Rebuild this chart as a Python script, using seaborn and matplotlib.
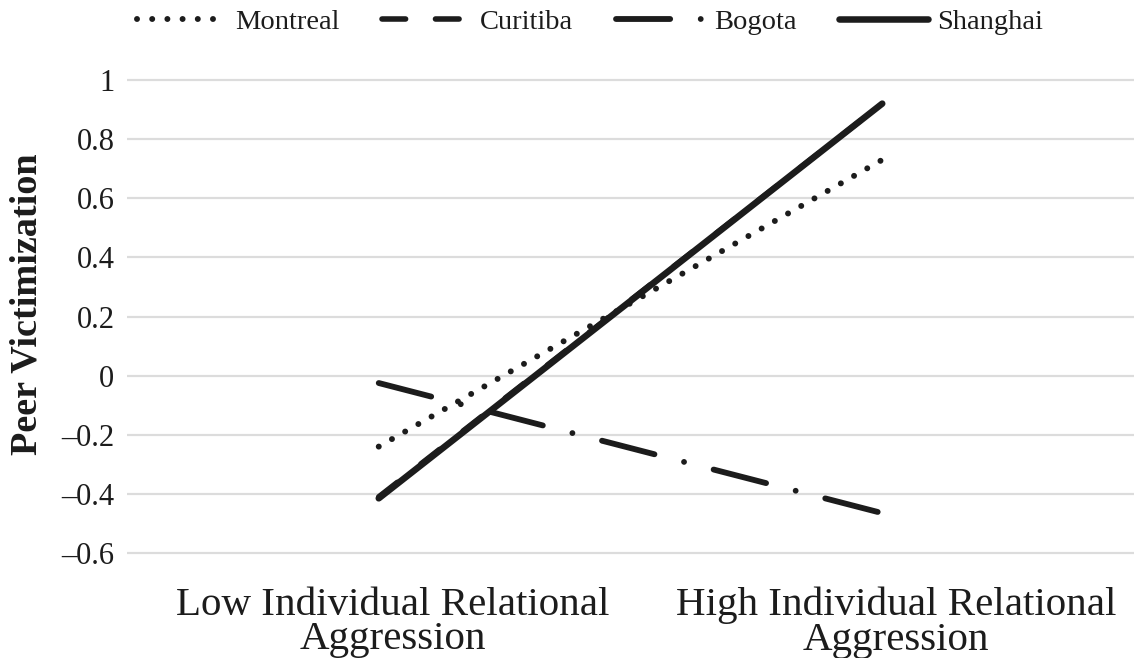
import matplotlib
matplotlib.use("Agg")
import matplotlib.pyplot as plt
import matplotlib.transforms as mtransforms
import pandas as pd
import seaborn as sns

# Simple slopes: peer victimization at low vs. high individual relational aggression
categories = ["Low Individual Relational\nAggression", "High Individual Relational\nAggression"]
montreal = [-0.24, 0.73]
curitiba = [-0.41, 0.92]
bogota = [-0.025, -0.465]
shanghai = [-0.415, 0.92]
y_ticks = [-0.6, -0.4, -0.2, 0, 0.2, 0.4, 0.6, 0.8, 1]

sns.set_theme(style="white")
plt.rcParams["font.family"] = ["Liberation Serif", "DejaVu Serif"]
plt.rcParams["lines.scale_dashes"] = False

ink = "#1c1c1c"
fig = plt.figure(figsize=(11.34, 6.58), dpi=100)
W, H = 1134, 658
left, right, top, bottom = 127, 1134, 77, 556
ax = fig.add_axes([left / W, 1 - bottom / H, (right - left) / W, (bottom - top) / H])

series = {
    "Montreal": (montreal, dict(lw=4.3, linestyle=(0, (0.01, 10.93)), dash_capstyle="round")),
    "Curitiba": (curitiba, dict(lw=4.0, linestyle=(0, (17.0, 21.5)), dash_capstyle="round")),
    "Bogota": (bogota, dict(lw=4.2, linestyle=(0, (39.0, 22.0, 0.01, 22.0)), dash_capstyle="round")),
    "Shanghai": (shanghai, dict(lw=4.7, linestyle="-", solid_capstyle="round")),
}

draw_order = ["Curitiba", "Bogota", "Montreal", "Shanghai"]
for name in draw_order:
    vals, style = series[name]
    df = pd.DataFrame({"aggression": categories, "victimization": vals})
    sns.lineplot(data=df, x="aggression", y="victimization", ax=ax, color=ink,
                 label=name, zorder=3, **style)

if ax.get_legend() is not None:
    ax.get_legend().remove()

ax.set_xlim(-0.5, 1.5)
ax.set_ylim(-0.61, 1.01)
ax.set_yticks(y_ticks)
ax.set_yticklabels([f"{v:g}".replace("-", "\u2013") for v in y_ticks])
ax.yaxis.grid(True, color="#dcdcdc", lw=1.6)
ax.xaxis.grid(False)
for sp in ax.spines.values():
    sp.set_visible(False)
ax.tick_params(axis="y", length=0, pad=9, labelsize=22, labelcolor=ink)
ax.tick_params(axis="x", length=0, pad=22, labelsize=29.5, labelcolor=ink)
for lab in ax.get_xticklabels():
    lab.set_linespacing(0.92)
    lab.set_transform(lab.get_transform() + mtransforms.ScaledTranslation(14 / 100, 0, fig.dpi_scale_trans))

ax.set_xlabel("")
ax.set_ylabel("Peer Victimization", fontsize=27.5, fontweight="bold", color=ink)
ax.yaxis.set_label_coords((45 - left) / (right - left), (bottom - 304) / (bottom - top))

handles, labels = ax.get_legend_handles_labels()
lookup = dict(zip(labels, handles))
order = ["Montreal", "Curitiba", "Bogota", "Shanghai"]
fig.legend([lookup[n] for n in order], order, loc="center",
           bbox_to_anchor=(590 / W, 1 - 22 / H), ncol=4, frameon=False,
           fontsize=20.5, handlelength=3.1, handletextpad=0.35, columnspacing=1.5,
           labelcolor=ink)

fig.savefig("out.png", dpi=100, facecolor="white")
